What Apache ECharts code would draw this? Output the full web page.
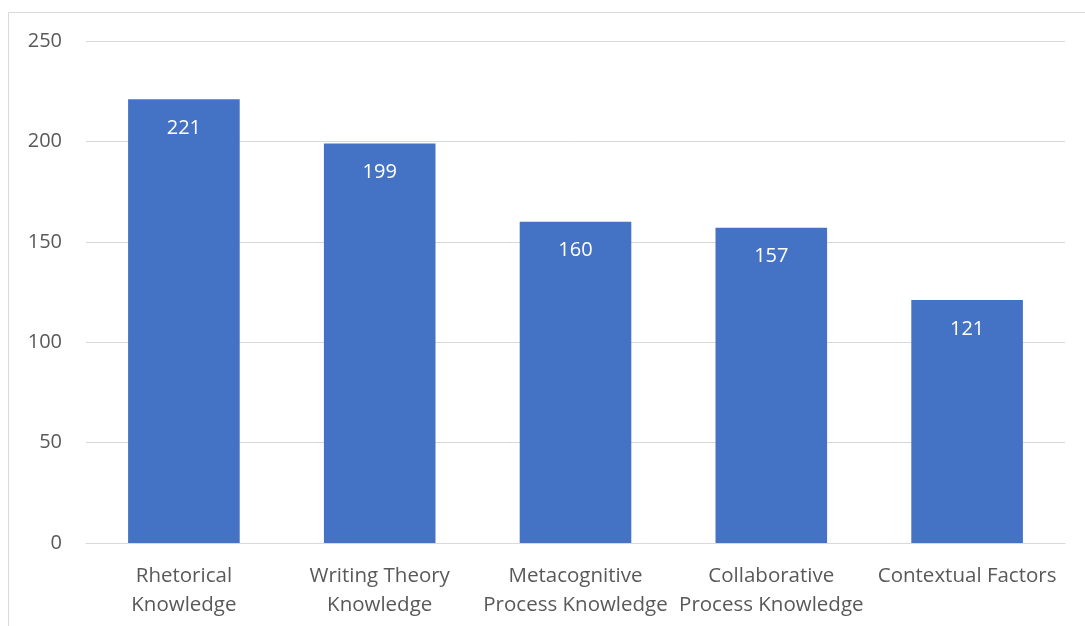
<!DOCTYPE html>
<html><head><meta charset="utf-8">
<script src="https://cdn.jsdelivr.net/npm/echarts@6/dist/echarts.min.js"></script>
<style>html,body{margin:0;padding:0;background:#fff}#c{width:1085px;height:626px}</style>
</head><body><div id="c"></div>
<script>
const categories = ["Rhetorical\nKnowledge", "Writing Theory\nKnowledge", "Metacognitive\nProcess Knowledge", "Collaborative\nProcess Knowledge", "Contextual Factors"];
const values = [221, 199, 160, 157, 121];
const yTicks = { min: 0, max: 250, interval: 50 };

const chart = echarts.init(document.getElementById('c'), null, { renderer: 'canvas' });
const font = '"Open Sans", "Noto Sans", sans-serif';
chart.setOption({
  animation: false,
  backgroundColor: '#fff',
  graphic: [{
    type: 'rect', shape: { x: 8.5, y: 12.5, width: 1100, height: 700 },
    style: { fill: 'none', stroke: '#D9D9D9', lineWidth: 1 }, silent: true
  }],
  grid: { left: 86, right: 20, top: 41, bottom: 83, containLabel: false },
  xAxis: {
    type: 'category', data: categories,
    axisLine: { show: true, lineStyle: { color: '#D9D9D9', width: 1 } },
    axisTick: { show: false },
    axisLabel: { interval: 0, color: '#595959', fontFamily: font, fontSize: 20.5, lineHeight: 29, margin: 19 }
  },
  yAxis: {
    type: 'value', min: yTicks.min, max: yTicks.max, interval: yTicks.interval,
    axisLine: { show: false }, axisTick: { show: false },
    splitLine: { lineStyle: { color: '#D9D9D9', width: 1 } },
    axisLabel: { color: '#595959', fontFamily: font, fontSize: 20, margin: 24 }
  },
  series: [{
    type: 'bar', data: values, barWidth: '57%',
    itemStyle: { color: '#4472C4' },
    label: { show: true, position: 'insideTop', distance: 19, color: '#fff', fontFamily: font, fontSize: 20 }
  }]
});
</script></body></html>
